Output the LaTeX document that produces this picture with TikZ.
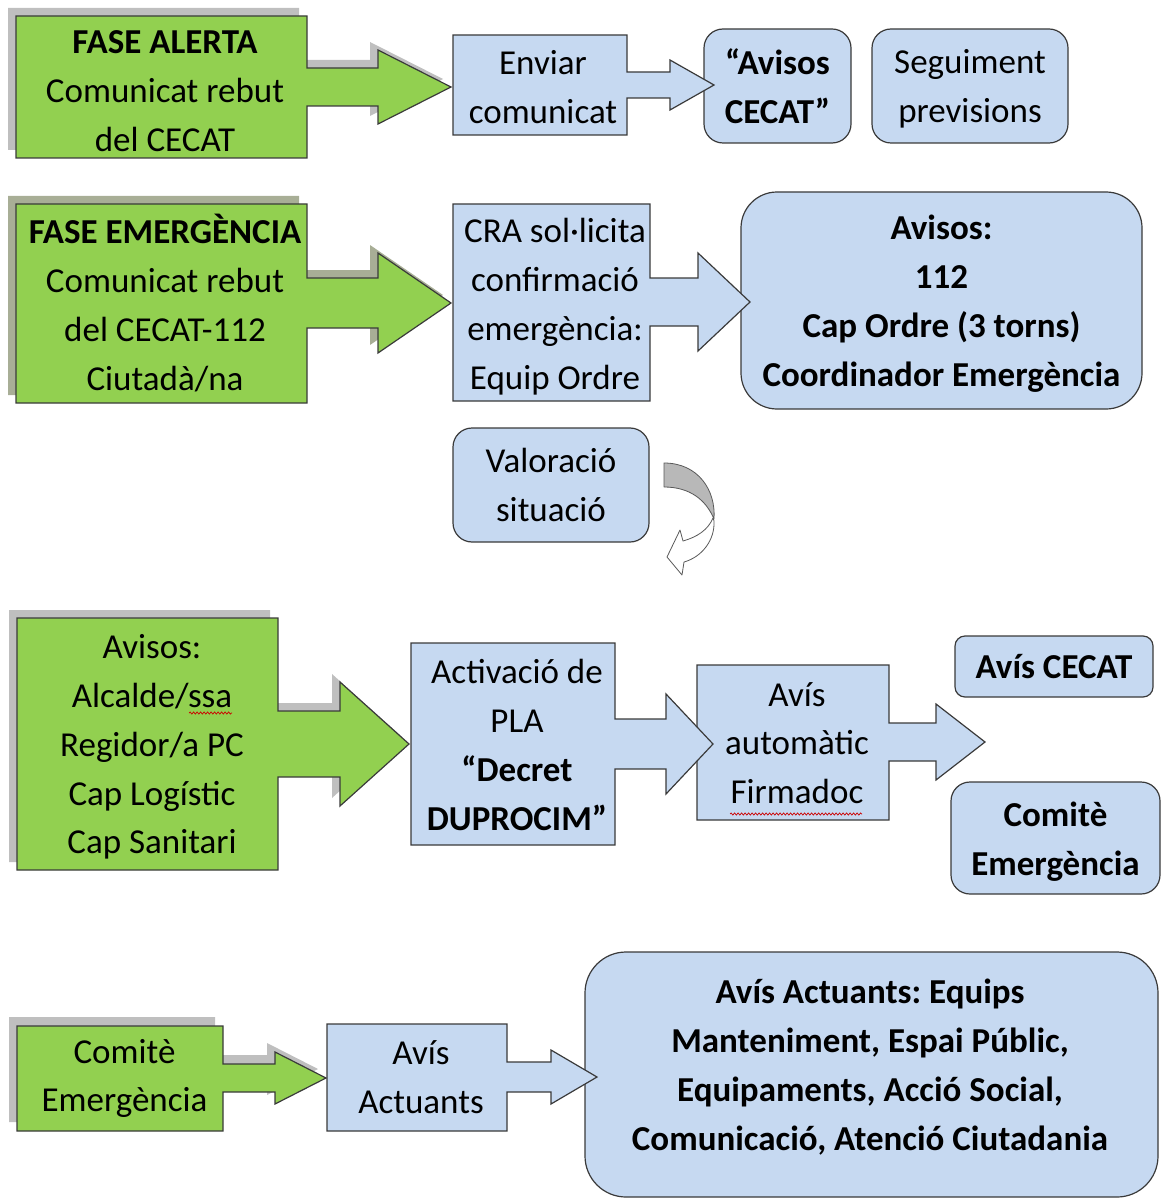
\documentclass[tikz,border=0pt]{standalone}
\usepackage{fontspec}
\setmainfont{Carlito}
\usetikzlibrary{decorations.pathmorphing}
\definecolor{ggreen}{HTML}{92D050}
\definecolor{bblue}{HTML}{C6D9F1}
\definecolor{shgray}{HTML}{BFBFBF}
\definecolor{sholive}{HTML}{A8AE96}
\definecolor{edgecol}{HTML}{3A3A3A}
\frenchspacing
% box-with-arrow (right arrow callout): L T R B yc shaft head base tip
\newcommand\callshape[9]{(#1,#2) -- (#3,#2) -- (#3,#5-#6) -- (#8,#5-#6) -- (#8,#5-#7) -- (#9,#5) -- (#8,#5+#7) -- (#8,#5+#6) -- (#3,#5+#6) -- (#3,#4) -- (#1,#4) -- cycle}
\begin{document}
\begin{tikzpicture}[x=1pt,y=-1pt,
  txt/.style={font=\fontsize{35}{48.8}\selectfont, align=center, inner sep=0pt, yshift=-2pt},
  btxt/.style={font=\fontsize{35}{48.8}\selectfont\bfseries, align=center, inner sep=0pt},
  gshape/.style={draw=edgecol, fill=ggreen, line width=1.2pt, line join=miter},
  bshape/.style={draw=edgecol, fill=bblue, line width=1.2pt, line join=miter},
  rbox/.style={draw=edgecol, fill=bblue, line width=1.2pt, inner sep=0pt},
  squig/.style={draw=red!80!black, line width=0.7pt, decorate, decoration={snake, amplitude=1.1pt, segment length=3.5pt}},
]
\useasboundingbox (0,0) rectangle (1161,1198);

% ---------- Row 1 ----------
\fill[shgray, shift={(-8,-8)}] \callshape{16}{16}{307}{158}{87}{19}{37}{378}{451};
\draw[gshape] \callshape{16}{16}{307}{158}{87}{19}{37}{378}{451};
\node[txt] (g1) at (165,89) {\textbf{FASE ALERTA}\\Comunicat rebut\\del CECAT};

\node[rbox, btxt, rounded corners=19pt, minimum width=147pt, minimum height=114pt] (r1) at (777.5,86) {\raisebox{0pt}[\height][0pt]{“Avisos}\\CECAT”};
\node[rbox, txt, yshift=2pt, rounded corners=19pt, minimum width=196pt, minimum height=114pt] (r2) at (970,86) {\raisebox{0pt}[\height][0pt]{Seguiment}\\\raisebox{0pt}[\height][0pt]{previsions}};

\draw[bshape] \callshape{453}{35}{627}{135}{85}{13}{25}{670}{714};
\node[txt] (e1) at (543,85) {Enviar\\comunicat};

% ---------- Row 2 ----------
\fill[sholive, shift={(-8,-8)}] \callshape{16}{204}{307}{403}{303}{25}{50}{378}{451};
\draw[gshape] \callshape{16}{204}{307}{403}{303}{25}{50}{378}{451};
\node[txt] (g2) at (165,301) {\textbf{FASE EMERGÈNCIA}\\Comunicat rebut\\del CECAT-112\\Ciutadà/na};

\node[rbox, rounded corners=36pt, minimum width=401pt, minimum height=217pt] (r3) at (941.5,300.5) {};
\node[btxt] (r3t) at (941.5,303.5) {Avisos:\\112\\Cap Ordre (3 torns)\\Coordinador Emergència};

\draw[bshape] \callshape{453}{204}{650}{401}{302}{24}{49}{698}{750};
\node[txt] (e2) at (555,302) {CRA sol·licita\\confirmació\\emergència:\\\raisebox{0pt}[\height][0pt]{Equip Ordre}};

% ---------- Valoració + curved arrow ----------
\node[rbox, txt, yshift=2pt, rounded corners=19pt, minimum width=196pt, minimum height=114pt] (r4) at (551,485) {Valoració\\situació};

\filldraw[fill=white, draw=black!65, line width=0.8pt, line join=round]
  (713,518) .. controls (708,530) and (697,537) .. (683,541)
  -- (680,530) -- (667,557) -- (682,575) -- (684,562)
  .. controls (702,557) and (715,540) .. (714,521) -- cycle;
\filldraw[fill=black!28, draw=black!65, line width=0.8pt, line join=round]
  (664,463) .. controls (698,463) and (716,490) .. (714,519)
  .. controls (706,500) and (690,487) .. (664,487) -- cycle;

% ---------- Row 3 ----------
\fill[shgray, shift={(-8,-8)}] \callshape{17}{618}{278}{870}{744}{33}{62}{340}{409};
\draw[gshape] \callshape{17}{618}{278}{870}{744}{33}{62}{340}{409};
\node[txt] (g3) at (152,745) {Avisos:\\Alcalde/ssa\\Regidor/a PC\\Cap Logístic\\Cap Sanitari};
\draw[squig] (189,713) -- (232,713);

\draw[bshape] \callshape{697}{665}{889}{820}{742}{19}{38}{936}{985};
\node[txt] (e4) at (797,741) {Avís\\automàtic\\Firmadoc};
\draw[squig] (730,814) -- (862,814);

\draw[bshape] \callshape{411}{643}{615}{845}{744}{25}{50}{666}{713};
\node[txt] (e3) at (517,743) {Activació de\\PLA\\\textbf{“Decret}\\\textbf{DUPROCIM”}};

\node[rbox, btxt, rounded corners=10pt, minimum width=198pt, minimum height=61pt] (r5) at (1054,666.5) {Avís CECAT};
\node[rbox, rounded corners=19pt, minimum width=209pt, minimum height=112pt] (r6) at (1055.5,838) {};
\node[btxt] (r6t) at (1055.5,842) {Comitè\\Emergència};

% ---------- Row 4 ----------
\fill[shgray, shift={(-8,-9)}] \callshape{17}{1026}{223}{1131}{1078}{14}{26}{275}{326};
\draw[gshape] \callshape{17}{1026}{223}{1131}{1078}{14}{26}{275}{326};
\node[txt] (g4) at (124.5,1076.5) {Comitè\\Emergència};

\node[rbox, rounded corners=41pt, minimum width=573pt, minimum height=245pt] (r7) at (871.5,1074.5) {};
\node[btxt, yshift=-2pt] (r7t) at (870,1065) {Avís Actuants: Equips\\Manteniment, Espai Públic,\\Equipaments, Acció Social,\\Comunicació, Atenció Ciutadania};

\draw[bshape] \callshape{327}{1024}{507}{1131}{1077}{15}{27}{551}{597};
\node[txt] (e5) at (421,1075.5) {Avís\\Actuants};
\end{tikzpicture}
\end{document}
